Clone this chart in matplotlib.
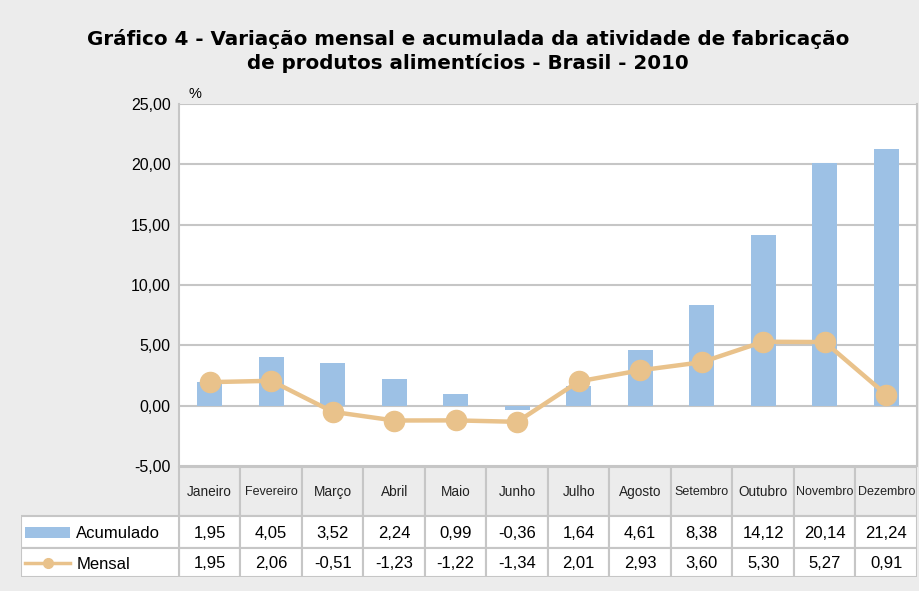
import numpy as np
import matplotlib.pyplot as plt
from matplotlib.patches import Rectangle
from matplotlib.lines import Line2D

plt.rcParams['font.family'] = ['Liberation Sans', 'DejaVu Sans']

# ── dados ────────────────────────────────────────────────────────────────────
meses = ["Janeiro", "Fevereiro", "Março", "Abril", "Maio", "Junho", "Julho",
         "Agosto", "Setembro", "Outubro", "Novembro", "Dezembro"]
acumulado = [1.95, 4.05, 3.52, 2.24, 0.99, -0.36, 1.64, 4.61, 8.38, 14.12, 20.14, 21.24]
mensal = [1.95, 2.06, -0.51, -1.23, -1.22, -1.34, 2.01, 2.93, 3.60, 5.30, 5.27, 0.91]
y_ticks = [-5, 0, 5, 10, 15, 20, 25]

BG = '#ececec'
AZUL = '#9dc1e5'
LARANJA = '#e9c28b'
GRADE = '#c6c6c6'
W, H = 919, 591


def fmt(v):
    return f"{v:.2f}".replace('.', ',')


def fig_box(x0, y0, x1, y1):
    # caixa em pixels (origem no topo) -> fração da figura
    return [x0 / W, 1 - y1 / H, (x1 - x0) / W, (y1 - y0) / H]


fig = plt.figure(figsize=(W / 100, H / 100), dpi=100, facecolor=BG)

titulo = dict(ha='center', va='center', fontsize=14.3, fontweight='bold', family='DejaVu Sans')
fig.text(468 / W, 1 - 39 / H, "Gráfico 4 - Variação mensal e acumulada da atividade de fabricação", **titulo)
fig.text(468 / W, 1 - 63 / H, "de produtos alimentícios - Brasil - 2010", **titulo)

# ── gráfico principal ────────────────────────────────────────────────────────
ax = fig.add_axes(fig_box(179, 104, 917, 466))
ax.set_facecolor('white')
x = np.arange(len(meses))
ax.bar(x, acumulado, width=0.41, color=AZUL, zorder=2)
ax.plot(x, mensal, color=LARANJA, lw=3.2, marker='o', ms=14.5, zorder=3)
ax.set_xlim(-0.5, len(meses) - 0.5)
ax.set_ylim(-5, 25)
ax.set_yticks(y_ticks)
ax.set_yticklabels([fmt(v) for v in y_ticks], fontsize=11.5)
ax.tick_params(axis='y', length=0, pad=6)
ax.set_xticks([])
for v in y_ticks:
    ax.axhline(v, color=GRADE, lw=1.5, zorder=1)
for s in ['top', 'bottom']:
    ax.spines[s].set_visible(False)
for s in ['left', 'right']:
    ax.spines[s].set_color(GRADE)
    ax.spines[s].set_linewidth(1.5)
ax.text(195 / W, 1 - 94 / H, "%", transform=fig.transFigure, ha='center', va='center', fontsize=10.5)

# ── tabela de dados ──────────────────────────────────────────────────────────
col_w = (917 - 179) / len(meses)
lab_w = (179 - 21) / col_w
tab = fig.add_axes(fig_box(21, 466, 917, 577))
tab.set_xlim(-0.5 - lab_w, len(meses) - 0.5)
tab.set_ylim(111, 0)
tab.axis('off')

linhas = [(0.5, 50), (50, 82), (82, 111)]
for i, mes in enumerate(meses):
    x0 = i - 0.5
    tab.add_patch(Rectangle((x0, 0.5), 1, 49.5, facecolor=BG, edgecolor=GRADE, lw=1.5))
    fs = 9 if len(mes) >= 8 else 9.8
    tab.text(i, 26, mes, ha='center', va='center', fontsize=fs, color='#222222', clip_on=False)
    for (y0, y1), vals in zip(linhas[1:], [acumulado, mensal]):
        tab.add_patch(Rectangle((x0, y0), 1, y1 - y0, facecolor='white', edgecolor=GRADE, lw=1.5))
        tab.text(i, (y0 + y1) / 2 + 1, fmt(vals[i]), ha='center', va='center', fontsize=12)

for (y0, y1), nome in zip(linhas[1:], ["Acumulado", "Mensal"]):
    tab.add_patch(Rectangle((-0.5 - lab_w, y0), lab_w, y1 - y0, facecolor='white', edgecolor=GRADE, lw=1.5))
    tab.text(-0.5 - lab_w + 0.9, (y0 + y1) / 2 + 2, nome, ha='left', va='center', fontsize=12)

# amostras da legenda dentro da tabela
tab.add_patch(Rectangle((-0.5 - lab_w + 0.07, 61), 0.73, 11, facecolor=AZUL, edgecolor='none'))
tab.add_line(Line2D([-0.5 - lab_w + 0.07, -0.5 - lab_w + 0.80], [97, 97], color=LARANJA, lw=2.5))
tab.plot([-0.5 - lab_w + 0.435], [97], 'o', color=LARANJA, ms=7)

fig.savefig("out.png", dpi=100, facecolor=BG)
